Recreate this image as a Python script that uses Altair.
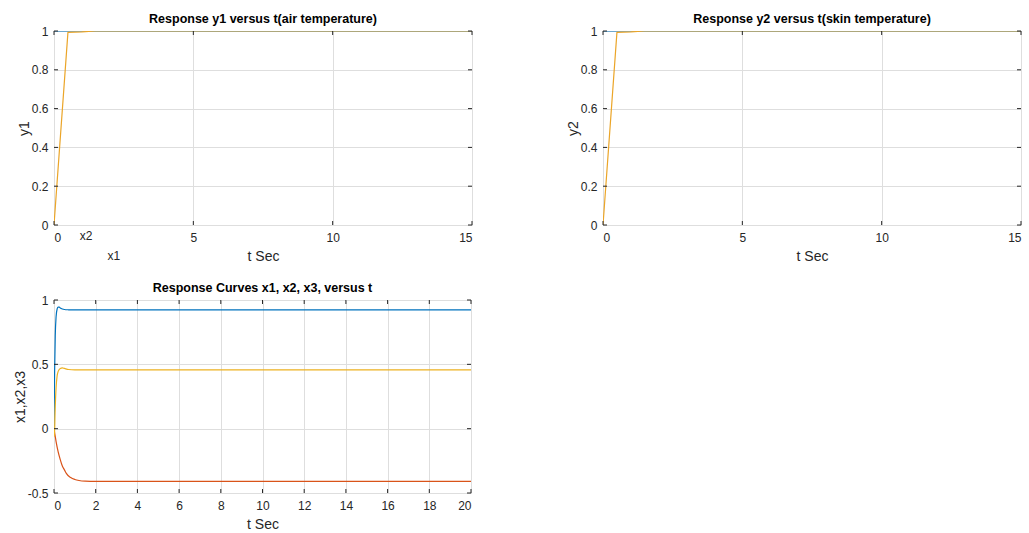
import altair as alt
import pandas as pd

# ---------------- data ----------------
# Top panels (y1 and y2 step responses)
top_blue_t = [0, 15]
top_blue_v = [1, 1]
y1_t = [0, 0.5, 1.0, 1.5, 15]
y1_v = [0, 0.993, 0.995, 1.0, 1.0]
y2_t = [0, 0.5, 1.0, 1.5, 15]
y2_v = [0, 0.993, 0.995, 1.0, 1.0]

# Bottom panel (state responses)
x1_t = [0, 0.03, 0.06, 0.1, 0.15, 0.2, 0.25, 0.3, 0.4, 0.5, 0.7, 1.0, 20]
x1_v = [0, 0.45, 0.72, 0.87, 0.93, 0.945, 0.944, 0.938, 0.93, 0.926, 0.924, 0.923, 0.923]
x2_t = [0, 0.1, 0.2, 0.3, 0.4, 0.5, 0.6, 0.8, 1.0, 1.2, 1.5, 2, 20]
x2_v = [0, -0.1, -0.18, -0.24, -0.29, -0.32, -0.35, -0.38, -0.395, -0.403, -0.408, -0.41, -0.41]
x3_t = [0, 0.02, 0.05, 0.1, 0.15, 0.2, 0.3, 0.4, 0.5, 0.7, 1.0, 20]
x3_v = [0, -0.06, 0.12, 0.32, 0.41, 0.445, 0.468, 0.472, 0.468, 0.46, 0.457, 0.457]

top_xticks = [0, 5, 10, 15]
top_yticks = [0, 0.2, 0.4, 0.6, 0.8, 1]
bot_xticks = [0, 2, 4, 6, 8, 10, 12, 14, 16, 18, 20]
bot_yticks = [-0.5, 0, 0.5, 1]

# stray labels in the first figure
stray_text = ["x2", "x1"]
stray_t = [1.15, 2.15]
stray_v = [-0.057, -0.16]

BLUE = "#0072BD"
RED = "#D95319"
YELLOW = "#EDB120"
ORANGE = "#EBA528"
FONT = "Liberation Sans"
INK = "#262626"

AX = dict(labelFont=FONT, labelFontSize=12, labelColor=INK,
          titleFont=FONT, titleFontSize=14, titleColor=INK, titleFontWeight="normal",
          gridColor="#dedede", gridWidth=1, grid=True, ticks=False, domain=False)


def df(t, v):
    return pd.DataFrame({"t": t, "v": v})


def panel(lines, xdom, xticks, ydom, yticks, W, H, title, ytitle, interp, texts=None):
    X = alt.X("t:Q", scale=alt.Scale(domain=xdom, nice=False, zero=False),
              axis=alt.Axis(values=xticks, labelExpr="'' + datum.value", title="t Sec",
                            labelPadding=7, titlePadding=6, **AX))
    Y = alt.Y("v:Q", scale=alt.Scale(domain=ydom, nice=False, zero=False),
              axis=alt.Axis(values=yticks, labelExpr="'' + datum.value", title=ytitle,
                            labelPadding=6, titlePadding=0, **AX))
    layers = []
    for d, c in lines:
        layers.append(alt.Chart(d).mark_line(color=c, strokeWidth=1.2, interpolate=interp,
                                             clip=True).encode(x=X, y=Y))
    xt = pd.DataFrame({"t": xticks})
    yt = pd.DataFrame({"v": yticks})
    tk = dict(color=INK, strokeWidth=1)
    layers.append(alt.Chart(xt).mark_rule(**tk).encode(x=X, y=alt.value(H), y2=alt.value(H - 4)))
    layers.append(alt.Chart(xt).mark_rule(**tk).encode(x=X, y=alt.value(0), y2=alt.value(4)))
    layers.append(alt.Chart(yt).mark_rule(**tk).encode(y=Y, x=alt.value(0), x2=alt.value(4)))
    layers.append(alt.Chart(yt).mark_rule(**tk).encode(y=Y, x=alt.value(W), x2=alt.value(W - 4)))
    if texts is not None:
        layers.append(alt.Chart(texts).mark_text(font=FONT, fontSize=12, color=INK,
                                                 clip=False).encode(x=X, y=Y, text="label:N"))
    return alt.layer(*layers).properties(
        width=W, height=H,
        title=alt.TitleParams(title, font=FONT, fontSize=12.5, fontWeight="bold",
                              color="black", offset=0))


stray_df = pd.DataFrame({"t": stray_t, "v": stray_v, "label": stray_text})

p1 = panel([(df(top_blue_t, top_blue_v), BLUE), (df(y1_t, y1_v), ORANGE)],
           [0, 15], top_xticks, [0, 1], top_yticks, 418, 194,
           "Response y1 versus t(air temperature)", "y1", "linear", stray_df)
p2 = panel([(df(top_blue_t, top_blue_v), BLUE), (df(y2_t, y2_v), ORANGE)],
           [0, 15], top_xticks, [0, 1], top_yticks, 418, 194,
           "Response y2 versus t(skin temperature)", "y2", "linear")
p3 = panel([(df(x1_t, x1_v), BLUE), (df(x2_t, x2_v), RED), (df(x3_t, x3_v), YELLOW)],
           [0, 20], bot_xticks, [-0.5, 1], bot_yticks, 417, 193,
           "Response Curves x1, x2, x3, versus t", "x1,x2,x3", "monotone")

chart = alt.concat(p1, p2, p3, columns=2, spacing={"row": 75, "column": 131},
                   bounds="flush").properties(
    padding={"left": 12, "top": 12, "right": 5, "bottom": 5},
).configure_view(stroke=INK, strokeWidth=1).configure(background="white")

chart.save("out.html", embed_options={"renderer": "svg", "actions": False})
